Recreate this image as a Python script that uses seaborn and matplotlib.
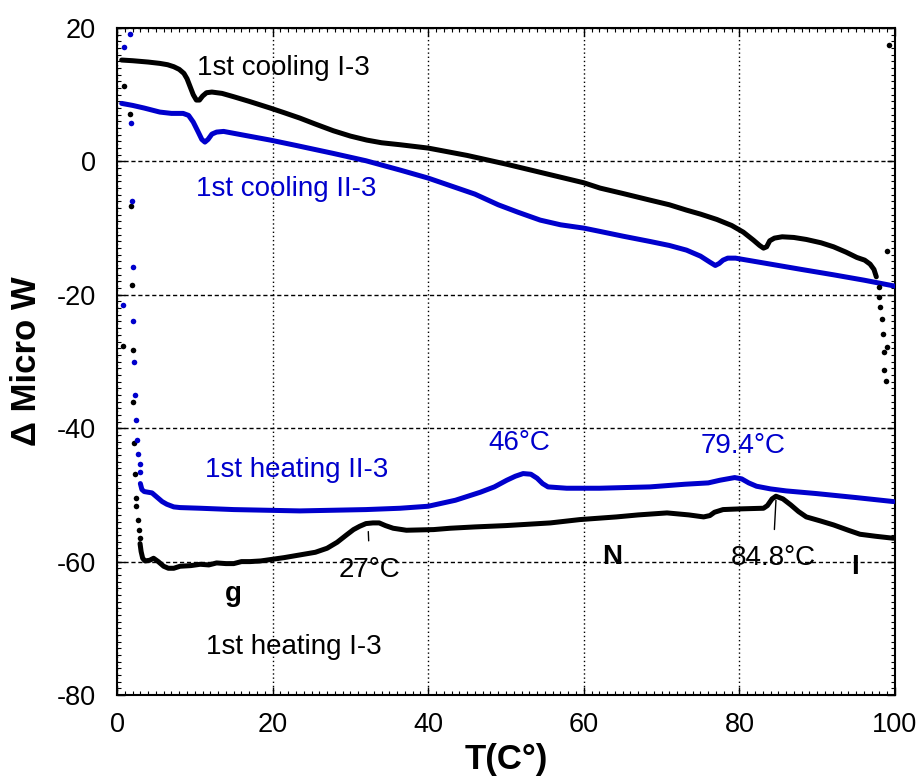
import matplotlib
matplotlib.use("Agg")
from matplotlib import pyplot as plt
from matplotlib import ticker
import seaborn as sns

# traces (T in C, heat flow in micro W)
cool1_T = [0.6, 2.0, 4.0, 5.5, 6.5, 7.3, 8.0, 8.6, 9.0, 9.4, 9.8, 10.2, 10.6, 11.0,
           11.5, 12.2, 13.5, 15.0, 17.0, 19.7, 21.5, 23.5, 25.5, 27.8, 30.0, 32.1,
           34.0, 36.4, 40.0, 45.0, 50.0, 55.0, 60.0, 62.1, 65.0, 68.5, 71.0, 73.2,
           75.0, 77.1, 79.0, 80.5, 81.8, 82.6, 83.1, 83.5, 83.9, 84.5, 85.5, 87.0,
           88.6, 90.5, 92.1, 93.7, 95.1, 96.1, 96.8, 97.3, 97.6]
cool1_W = [15.2, 15.1, 14.9, 14.7, 14.5, 14.2, 13.8, 13.2, 12.4, 11.2, 10.0, 9.2, 9.2, 9.8,
           10.3, 10.4, 10.2, 9.7, 9.0, 8.0, 7.3, 6.5, 5.6, 4.6, 3.8, 3.2,
           2.8, 2.5, 2.0, 0.9, -0.4, -1.8, -3.2, -4.0, -4.8, -5.8, -6.5, -7.3,
           -7.9, -8.7, -9.6, -10.6, -11.8, -12.6, -13.0, -12.8, -11.9, -11.5, -11.3, -11.4,
           -11.7, -12.2, -12.8, -13.6, -14.4, -14.8, -15.4, -16.2, -17.3]

cool2_T = [0.6, 2.0, 3.5, 5.5, 7.0, 8.5, 9.2, 9.8, 10.4, 10.9, 11.3, 11.7, 12.2,
           12.8, 13.7, 16.0, 19.7, 23.0, 27.8, 32.0, 36.4, 40.0, 43.0, 46.0, 49.0,
           51.5, 54.4, 57.0, 60.0, 62.1, 65.0, 68.5, 71.0, 73.2, 75.0, 76.2, 76.9,
           77.4, 77.9, 78.5, 79.5, 81.5, 83.5, 88.0, 92.1, 96.0, 100.0]
cool2_W = [8.7, 8.4, 8.0, 7.4, 7.2, 7.2, 6.9, 5.9, 4.5, 3.3, 2.9, 3.3, 4.1,
           4.4, 4.5, 4.0, 3.2, 2.4, 1.2, 0.1, -1.3, -2.5, -3.7, -4.9, -6.5,
           -7.6, -8.8, -9.5, -10.0, -10.5, -11.2, -12.0, -12.6, -13.3, -14.2, -15.1, -15.6,
           -15.3, -14.8, -14.5, -14.5, -14.9, -15.3, -16.2, -17.0, -17.8, -18.7]

heat1_T = [2.96, 3.1, 3.3, 3.6, 4.2, 4.7, 5.3, 6.0, 6.6, 7.3, 8.1, 9.5, 10.7, 11.8,
           12.8, 14.0, 15.0, 16.0, 17.1, 18.5, 19.7, 21.5, 23.5, 25.5, 27.0, 28.3,
           29.5, 30.4, 31.2, 32.0, 32.9, 33.7, 34.5, 35.5, 37.2, 40.7, 42.8, 46.0,
           50.0, 55.7, 59.5, 64.2, 67.0, 70.7, 73.5, 75.4, 76.2, 76.8, 77.9, 80.0,
           83.1, 83.6, 84.2, 84.7, 85.6, 86.6, 87.6, 88.6, 90.4, 92.1, 94.0, 95.5,
           97.5, 99.8]
heat1_W = [-57.3, -58.5, -59.5, -59.9, -59.8, -59.5, -60.0, -60.7, -61.0, -61.0, -60.7, -60.6, -60.4, -60.5,
           -60.2, -60.3, -60.3, -60.0, -60.0, -59.9, -59.7, -59.4, -59.0, -58.6, -58.0, -57.1,
           -56.0, -55.2, -54.7, -54.3, -54.2, -54.2, -54.6, -55.0, -55.3, -55.2, -55.0, -54.8,
           -54.6, -54.2, -53.7, -53.3, -53.0, -52.7, -53.0, -53.3, -53.1, -52.6, -52.2, -52.1,
           -52.0, -51.6, -50.6, -50.2, -50.6, -51.5, -52.5, -53.3, -53.9, -54.5, -55.3, -55.9,
           -56.2, -56.5]

heat2_T = [3.0, 3.2, 3.5, 4.0, 4.5, 5.1, 5.8, 6.4, 7.3, 8.1, 10.7, 15.0, 19.2,
           23.5, 27.8, 32.0, 36.4, 40.0, 43.5, 46.7, 48.5, 50.1, 51.2, 52.2, 53.2,
           54.0, 54.7, 55.4, 57.8, 62.0, 68.5, 73.0, 76.0, 77.5, 79.4, 80.3, 81.2,
           82.2, 84.0, 86.0, 89.9, 95.0, 99.8]
heat2_W = [-48.3, -49.2, -49.5, -49.6, -49.7, -50.3, -51.0, -51.4, -51.8, -51.9, -52.0, -52.2, -52.3,
           -52.4, -52.3, -52.2, -52.0, -51.7, -50.8, -49.6, -48.8, -47.8, -47.2, -46.8, -46.9,
           -47.5, -48.3, -48.8, -49.0, -49.0, -48.8, -48.4, -48.2, -47.8, -47.4, -47.6, -48.2,
           -48.7, -49.1, -49.4, -49.8, -50.4, -51.0]

# loose points at the start/end of the runs
dots1_T = [0.94, 1.67, 1.8, 1.9, 0.8, 2.0, 2.1, 2.2, 2.3, 2.4, 2.5, 2.7, 2.8, 2.9,
           97.9, 98.0, 98.1, 98.3, 98.4, 98.6, 99.0, 98.6, 98.8, 99.0, 99.2]
dots1_W = [11.3, 7.1, -6.7, -18.5, -27.6, -28.3, -36.1, -42.2, -46.8, -50.4, -51.7, -53.7, -55.2, -56.4,
           -18.9, -20.3, -21.8, -23.6, -25.9, -28.5, -27.8, -31.2, -32.9, -13.5, 17.5]
dots2_T = [1.67, 0.94, 1.8, 1.93, 2.0, 0.8, 2.1, 2.2, 2.3, 2.4, 2.6, 2.7, 2.9, 2.96]
dots2_W = [19.1, 17.1, 5.8, -6.0, -15.9, -21.6, -23.9, -30.1, -35.0, -38.8, -41.7, -43.8, -45.3, -46.6]

BLUE = "#0000cc"

sns.set_style("ticks")
plt.rcParams["font.family"] = ["Liberation Sans", "DejaVu Sans"]
plt.rcParams["axes.unicode_minus"] = False
plt.rcParams["text.color"] = "black"
plt.rcParams["axes.labelcolor"] = "black"

fig = plt.figure(figsize=(9.17, 7.83), dpi=100)
ax = fig.add_axes([0.1276, 0.1124, 0.8484, 0.8518])

for xs, ys, c in [(cool1_T, cool1_W, "black"), (cool2_T, cool2_W, BLUE),
                  (heat1_T, heat1_W, "black"), (heat2_T, heat2_W, BLUE)]:
    sns.lineplot(x=xs, y=ys, sort=False, estimator=None, color=c, lw=3.6,
                 solid_joinstyle="round", solid_capstyle="round", ax=ax, zorder=3)
sns.scatterplot(x=dots1_T, y=dots1_W, color="black", s=16, linewidth=0, ax=ax, zorder=3)
sns.scatterplot(x=dots2_T, y=dots2_W, color=BLUE, s=16, linewidth=0, ax=ax, zorder=3)

ax.set_xlim(0, 100)
ax.set_ylim(-80, 20)
ax.xaxis.set_major_locator(ticker.MultipleLocator(20))
ax.yaxis.set_major_locator(ticker.MultipleLocator(20))
ax.xaxis.set_minor_locator(ticker.MultipleLocator(1))
ax.yaxis.set_minor_locator(ticker.MultipleLocator(1))
ax.xaxis.grid(True, which="major", color="black", lw=1, linestyle=(0, (1, 2)))
ax.yaxis.grid(True, which="major", color="black", lw=1, linestyle=(0, (3, 2)))
ax.tick_params(which="both", direction="in", top=True, right=True, colors="black")
ax.tick_params(which="major", length=6, width=1, labelsize=19.5)
ax.tick_params(which="minor", length=3, width=0.8)
ax.tick_params(axis="x", which="major", pad=12)
ax.tick_params(axis="y", which="major", pad=15)
for sp in ax.spines.values():
    sp.set_color("black")
    sp.set_linewidth(1.5)

ax.set_xlabel("T(C°)", fontsize=25, fontweight="bold", labelpad=4)
ax.set_ylabel("Δ Micro W", fontsize=25, fontweight="bold", labelpad=10)

fs = 20
ax.text(10.3, 13.0, "1st cooling I-3", fontsize=fs, color="black")
ax.text(10.2, -5.2, "1st cooling II-3", fontsize=fs, color=BLUE)
ax.text(11.3, -47.3, "1st heating II-3", fontsize=fs, color=BLUE)
ax.text(11.5, -73.8, "1st heating I-3", fontsize=fs, color="black")
ax.text(13.9, -65.9, "g", fontsize=fs, fontweight="bold")
ax.text(62.3, -60.4, "N", fontsize=fs, fontweight="bold")
ax.text(94.4, -61.8, "I", fontsize=fs, fontweight="bold")
ax.text(51.7, -42.2, "46°C", fontsize=fs, color=BLUE, ha="center", va="center")
ax.text(80.5, -42.7, "79.4°C", fontsize=fs, color=BLUE, ha="center", va="center")
ax.annotate("27°C", xy=(32.3, -55.5), xytext=(32.5, -61.2), fontsize=fs,
            ha="center", va="center",
            arrowprops=dict(arrowstyle="-", color="black", lw=1, shrinkA=9, shrinkB=0))
ax.annotate("84.8°C", xy=(84.7, -50.8), xytext=(84.3, -59.5), fontsize=fs,
            ha="center", va="center",
            arrowprops=dict(arrowstyle="-", color="black", lw=1, shrinkA=9, shrinkB=0))

fig.savefig("out.png", dpi=100)
